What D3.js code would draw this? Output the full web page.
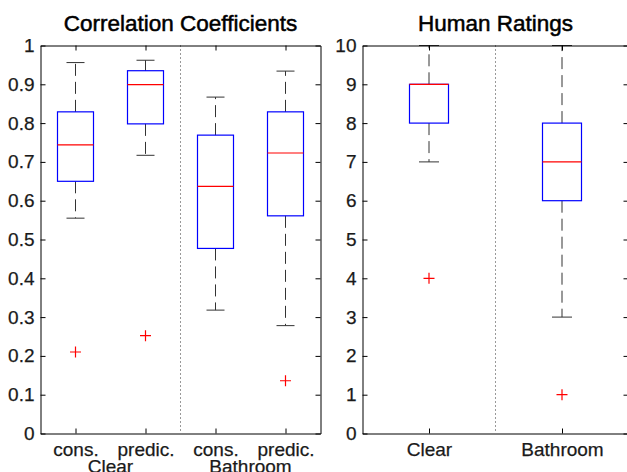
<!DOCTYPE html>
<html>
<head>
<meta charset="utf-8">
<script src="https://cdn.jsdelivr.net/npm/d3@7"></script>
<style>
  body { margin: 0; background: #fff; }
  svg { display: block; font-family: "Liberation Sans", Arial, sans-serif; }
  .tick text, .group { fill: #1a1a1a; font-size: 19px; stroke: #1a1a1a; stroke-width: 0.25px; }
  .title { font-size: 22.5px; fill: #000; stroke: #000; stroke-width: 0.5px; text-anchor: middle; }
</style>
</head>
<body>
<svg width="627" height="472"></svg>
<script>
// Correlation coefficients panel
const corrLabels = ['cons.', 'predic.', 'cons.', 'predic.'];
const corrGroups = ['Clear', 'Bathroom'];
const corrLower = [0.555, 0.717, 0.318, 0.278];
const corrQ1 = [0.650, 0.798, 0.477, 0.561];
const corrMedian = [0.744, 0.899, 0.637, 0.723];
const corrQ3 = [0.829, 0.935, 0.769, 0.829];
const corrUpper = [0.956, 0.962, 0.867, 0.934];
const corrOutliers = [[0.21], [0.252], [], [0.136]];
const corrTicks = [0, 0.1, 0.2, 0.3, 0.4, 0.5, 0.6, 0.7, 0.8, 0.9, 1];

// Human ratings panel
const ratingLabels = ['Clear', 'Bathroom'];
const ratingLower = [7, 3];
const ratingQ1 = [8, 6];
const ratingMedian = [9, 7];
const ratingQ3 = [9, 8];
const ratingUpper = [10, 10];
const ratingOutliers = [[4], [1]];
const ratingTicks = [0, 1, 2, 3, 4, 5, 6, 7, 8, 9, 10];

const svg = d3.select('svg');
const plotTop = 45.5, plotBottom = 433.5;

const plus = {
  draw: ctx => {
    ctx.moveTo(-5.5, 0); ctx.lineTo(5.5, 0);
    ctx.moveTo(0, -5.5); ctx.lineTo(0, 5.5);
  }
};

const drawPanel = p => {
  const n = p.labels.length;
  const x = d3.scaleLinear().domain([0.5, n + 0.5]).range([p.left, p.right]);
  const y = d3.scaleLinear().domain(p.domain).range([plotBottom, plotTop]);
  const g = svg.append('g');
  const cats = d3.range(1, n + 1);

  // separator between the two conditions
  g.append('line')
    .attr('x1', x(n / 2 + 0.5)).attr('x2', x(n / 2 + 0.5))
    .attr('y1', plotTop).attr('y2', plotBottom)
    .attr('stroke', '#333').attr('stroke-dasharray', '1,3');

  const rows = cats.map((c, i) => ({
    c, lo: p.lower[i], q1: p.q1[i], med: p.median[i], q3: p.q3[i], hi: p.upper[i], out: p.outliers[i]
  }));

  const b = g.selectAll('g.box').data(rows).enter().append('g').attr('class', 'box');

  // whiskers
  b.append('line')
    .attr('x1', d => x(d.c)).attr('x2', d => x(d.c))
    .attr('y1', d => y(d.q3)).attr('y2', d => y(d.hi))
    .attr('stroke', '#333').attr('stroke-dasharray', '12,6');
  b.append('line')
    .attr('x1', d => x(d.c)).attr('x2', d => x(d.c))
    .attr('y1', d => y(d.q1)).attr('y2', d => y(d.lo))
    .attr('stroke', '#333').attr('stroke-dasharray', '12,6');
  // caps
  b.append('line')
    .attr('x1', d => x(d.c) - p.capW / 2).attr('x2', d => x(d.c) + p.capW / 2)
    .attr('y1', d => y(d.hi)).attr('y2', d => y(d.hi))
    .attr('stroke', '#333');
  b.append('line')
    .attr('x1', d => x(d.c) - p.capW / 2).attr('x2', d => x(d.c) + p.capW / 2)
    .attr('y1', d => y(d.lo)).attr('y2', d => y(d.lo))
    .attr('stroke', '#333');
  // box
  b.append('rect')
    .attr('x', d => x(d.c) - p.boxW / 2).attr('width', p.boxW)
    .attr('y', d => y(d.q3)).attr('height', d => y(d.q1) - y(d.q3))
    .attr('fill', 'none').attr('stroke', '#0000ff').attr('stroke-width', 1.2);
  // median
  b.append('line')
    .attr('x1', d => x(d.c) - p.boxW / 2).attr('x2', d => x(d.c) + p.boxW / 2)
    .attr('y1', d => y(d.med)).attr('y2', d => y(d.med))
    .attr('stroke', '#ff0000').attr('stroke-width', 1.2);
  // outliers
  b.selectAll('path.out').data(d => d.out.map(v => ({ c: d.c, v }))).enter()
    .append('path').attr('class', 'out')
    .attr('d', d3.symbol(plus)())
    .attr('transform', d => `translate(${x(d.c)},${y(d.v)})`)
    .attr('fill', 'none').attr('stroke', '#ff0000').attr('stroke-width', 1.2);

  // axes, MATLAB style: ticks inside on all four sides
  g.append('g').attr('transform', `translate(${p.left},0)`)
    .call(d3.axisLeft(y).tickValues(p.ticks).tickSizeInner(-5).tickSizeOuter(0).tickPadding(6).tickFormat(d3.format('~g')));
  g.append('g').attr('transform', `translate(${p.right},0)`)
    .call(d3.axisRight(y).tickValues(p.ticks).tickSizeInner(-5).tickSizeOuter(0).tickFormat(''));
  g.append('g').attr('transform', `translate(0,${plotTop})`)
    .call(d3.axisTop(x).tickValues(cats).tickSizeInner(-5).tickSizeOuter(0).tickFormat(''));
  g.append('g').attr('transform', `translate(0,${plotBottom})`)
    .call(d3.axisBottom(x).tickValues(cats).tickSizeInner(-5).tickSizeOuter(0).tickPadding(9)
      .tickFormat(d => p.labels[d - 1]));
  g.selectAll('.domain').attr('stroke', '#000');
  g.selectAll('.tick line').attr('stroke', '#000');

  if (p.groups) {
    g.selectAll('text.group').data(p.groups).enter().append('text')
      .attr('class', 'group')
      .attr('x', (d, i) => x(i * 2 + 1.5))
      .attr('y', 473)
      .attr('text-anchor', 'middle')
      .text(d => d);
  }

  g.append('text').attr('class', 'title')
    .attr('x', (p.left + p.right) / 2).attr('y', 31)
    .text(p.title);
};

drawPanel({
  title: 'Correlation Coefficients', labels: corrLabels, groups: corrGroups,
  lower: corrLower, q1: corrQ1, median: corrMedian, q3: corrQ3, upper: corrUpper,
  outliers: corrOutliers, ticks: corrTicks, domain: [0, 1],
  left: 40.5, right: 320.5, boxW: 36, capW: 18
});

drawPanel({
  title: 'Human Ratings', labels: ratingLabels,
  lower: ratingLower, q1: ratingQ1, median: ratingMedian, q3: ratingQ3, upper: ratingUpper,
  outliers: ratingOutliers, ticks: ratingTicks, domain: [0, 10],
  left: 362.5, right: 628.5, boxW: 39, capW: 20
});
</script>
</body>
</html>
